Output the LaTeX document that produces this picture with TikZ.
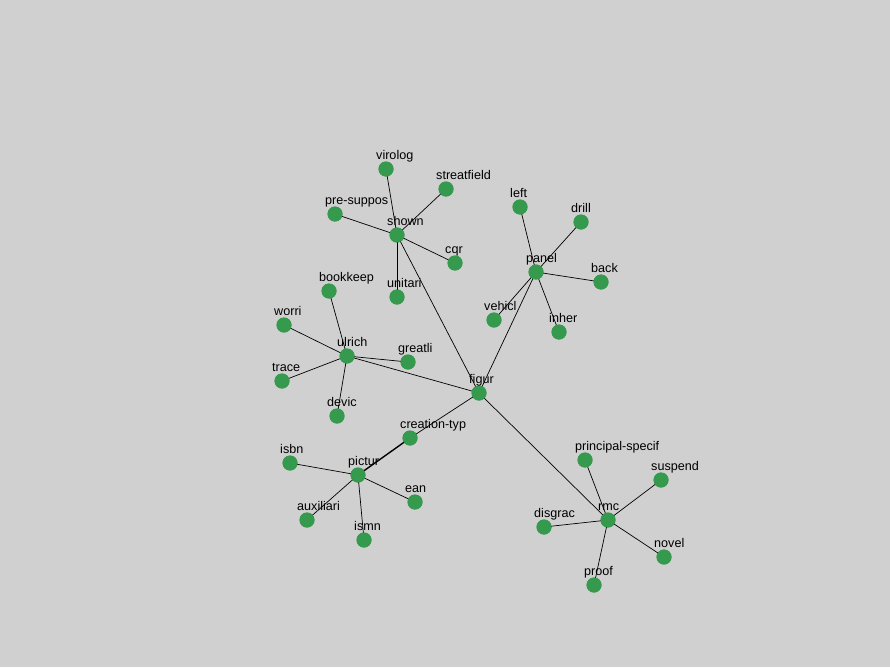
\documentclass[tikz,border=0pt]{standalone}
\usepackage{fontspec}
\setmainfont{Liberation Sans}
\usepackage{tikz}
\definecolor{fond}{RGB}{208,208,208}
\definecolor{vert}{RGB}{53,153,78}
\def\width{890}
\def\hauteur{667}

\begin{document}
\begin{tikzpicture}[x=1pt, y=-1pt,
	terme/.style={circle, fill=vert, inner sep=0pt, minimum size=15pt},
	etiq/.style={anchor=base west, inner sep=0pt, font=\fontsize{12.6}{14}\selectfont},
	lien/.style={line width=0.7pt, black}]
	\fill[fond] (0,0) rectangle (\width,\hauteur);
	\useasboundingbox (0,0) rectangle (\width,\hauteur);
	%\draw[step=50, black!20!white] (0,0) grid (\width,\hauteur);
	% centres
	\node[terme] (figur) at (479,393){};
	\node[terme] (shown) at (397,235){};
	\node[terme] (virolog) at (386,169){};
	\node[terme] (streatfield) at (446,189){};
	\node[terme] (presuppos) at (335,214){};
	\node[terme] (cqr) at (455,263){};
	\node[terme] (unitari) at (397,297){};
	\node[terme] (panel) at (536,272){};
	\node[terme] (left) at (520,207){};
	\node[terme] (drill) at (581,222){};
	\node[terme] (back) at (601,282){};
	\node[terme] (vehicl) at (494,320){};
	\node[terme] (inher) at (559,332){};
	\node[terme] (ulrich) at (347,356){};
	\node[terme] (bookkeep) at (329,291){};
	\node[terme] (worri) at (284,325){};
	\node[terme] (trace) at (282,381){};
	\node[terme] (greatli) at (408,362){};
	\node[terme] (devic) at (337,416){};
	\node[terme] (creationtyp) at (410,438){};
	\node[terme] (pictur) at (358,475){};
	\node[terme] (isbn) at (290,463){};
	\node[terme] (auxiliari) at (307,520){};
	\node[terme] (ismn) at (364,540){};
	\node[terme] (ean) at (415,502){};
	\node[terme] (rmc) at (608,520){};
	\node[terme] (principalspecif) at (585,460){};
	\node[terme] (suspend) at (661,480){};
	\node[terme] (disgrac) at (544,527){};
	\node[terme] (novel) at (664,557){};
	\node[terme] (proof) at (594,585){};
	% liens
	\foreach \a/\b in {shown/virolog, shown/streatfield, shown/presuppos, shown/cqr, shown/unitari, shown/figur,
		panel/left, panel/drill, panel/back, panel/vehicl, panel/inher, panel/figur,
		ulrich/bookkeep, ulrich/worri, ulrich/trace, ulrich/greatli, ulrich/devic, ulrich/figur,
		figur/creationtyp, pictur/isbn, pictur/auxiliari, pictur/ismn, pictur/ean,
		figur/rmc, rmc/principalspecif, rmc/suspend, rmc/disgrac, rmc/novel, rmc/proof}
		\draw[lien] (\a.center)--(\b.center);
	\draw[lien, line width=1.4pt] (creationtyp.center)--(pictur.center);
	% redessiner les points par-dessus
	\foreach \n in {figur, shown, virolog, streatfield, presuppos, cqr, unitari, panel, left, drill, back, vehicl, inher,
		ulrich, bookkeep, worri, trace, greatli, devic, creationtyp, pictur, isbn, auxiliari, ismn, ean,
		rmc, principalspecif, suspend, disgrac, novel, proof}
		\fill[vert] (\n) circle (7.5pt);
	% etiquettes
	\foreach \n/\t in {figur/figur, shown/shown, virolog/virolog, streatfield/streatfield, presuppos/pre-suppos,
		cqr/cqr, unitari/unitari, panel/panel, left/left, drill/drill, back/back, vehicl/vehicl, inher/inher,
		ulrich/ulrich, bookkeep/bookkeep, worri/worri, trace/trace, greatli/greatli, devic/devic,
		creationtyp/creation-typ, pictur/pictur, isbn/isbn, auxiliari/auxiliari, ismn/ismn, ean/ean,
		rmc/rmc, principalspecif/principal-specif, suspend/suspend, disgrac/disgrac, novel/novel, proof/proof}
		\node[etiq] (l\n) at ([xshift=-10pt, yshift=10pt]\n.center) {\t};
\end{tikzpicture}
\end{document}
